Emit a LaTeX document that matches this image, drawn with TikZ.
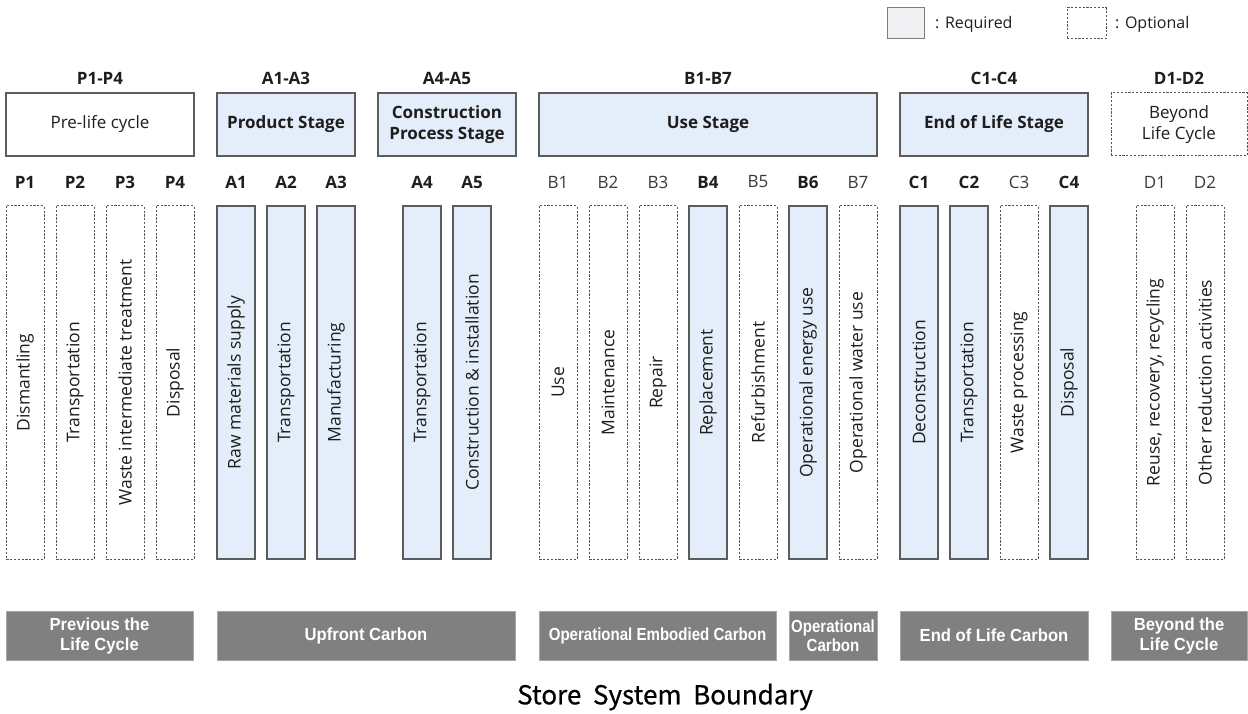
\documentclass[tikz,border=0pt]{standalone}
\usepackage{fontspec}
\setmainfont{Open Sans}
\newfontfamily\condfont{Liberation Sans}[FakeStretch=0.95]
\newfontfamily\narrowfont{Liberation Sans}[FakeStretch=0.86]
\newfontfamily\krfont{Noto Sans CJK KR}[FakeBold=0.6]
\definecolor{reqblue}{HTML}{E4EEFA}
\definecolor{bordergray}{HTML}{5C5C5C}
\definecolor{dashgray}{HTML}{555555}
\definecolor{txt}{HTML}{1E1E1E}
\definecolor{txtl}{HTML}{3A3A3A}
\definecolor{carbongray}{HTML}{808080}
\definecolor{carbonedge}{HTML}{A8A8A8}
\definecolor{legfill}{HTML}{F1F1F3}
\tikzset{
  req/.style={draw=bordergray, fill=reqblue, line width=1.2pt},
  opt/.style={draw=dashgray, dash pattern=on 2.2pt off 1.6pt, line width=1pt, fill=white},
  col/.style={rotate=90, minimum width=353pt, minimum height=38pt, inner sep=0pt,
    font=\fontsize{17.5}{20}\selectfont, text=txt},
  hdr/.style={font=\fontsize{17}{20}\selectfont\bfseries, text=txt},
  sub/.style={font=\fontsize{17}{20}\selectfont\bfseries, text=txt},
  subr/.style={font=\fontsize{17}{20}\selectfont, text=txtl},
  stage/.style={minimum height=63pt, inner sep=0pt, align=center, text=txt,
    font=\fontsize{17}{21}\selectfont\bfseries},
  stager/.style={minimum height=63pt, inner sep=0pt, align=center, text=txt,
    font=\fontsize{17}{21}\selectfont},
  carbon/.style={fill=carbongray, draw=carbonedge, line width=0.8pt, minimum height=49pt,
    inner sep=0pt, align=center, text=white, font=\condfont\bfseries\fontsize{17.5}{20}\selectfont},
  legtext/.style={anchor=west, inner sep=0pt, text=txt, font=\fontsize{16}{18}\selectfont},
}
\begin{document}
\begin{tikzpicture}[x=1pt,y=-1pt]
\useasboundingbox (0,0) rectangle (1248,714);

% legend
\node[draw=bordergray!80, fill=legfill, line width=1pt, minimum width=37pt, minimum height=31pt, inner sep=0pt] (legreq) at (905.5,23.5) {};
\node[legtext] (legreqt) at (935,24) {: Required};
\node[opt, minimum width=39pt, minimum height=31pt, inner sep=0pt] (legopt) at (1086.5,23.5) {};
\node[legtext] (legoptt) at (1115,24) {: Optional};

% headers
\node[hdr] (hP) at (100,78) {P1-P4};
\node[hdr] (hA13) at (286,78) {A1-A3};
\node[hdr] (hA45) at (447,78) {A4-A5};
\node[hdr] (hB) at (708,78) {B1-B7};
\node[hdr] (hC) at (994,78) {C1-C4};
\node[hdr] (hD) at (1179,78) {D1-D2};

% stage boxes
\node[stager, draw=bordergray, line width=1.2pt, fill=white, minimum width=188pt] (sP) at (100,124.5) {Pre-life cycle};
\node[stage, req, minimum width=138pt] (sA13) at (286,124.5) {Product Stage};
\node[stage, req, minimum width=138pt] (sA45) at (447,124.5) {Construction\\Process Stage};
\node[stage, req, minimum width=338pt] (sB) at (708,124.5) {Use Stage};
\node[stage, req, minimum width=188pt] (sC) at (994,124.5) {End of Life Stage};
\node[stager, opt, minimum width=136pt] (sD) at (1179,124.5) {Beyond\\Life Cycle};

% sub labels
\node[sub] (lP1) at (25,182) {P1};
\node[sub] (lP2) at (75,182) {P2};
\node[sub] (lP3) at (125,182) {P3};
\node[sub] (lP4) at (175,182) {P4};
\node[sub] (lA1) at (236,182) {A1};
\node[sub] (lA2) at (286,182) {A2};
\node[sub] (lA3) at (336,182) {A3};
\node[sub] (lA4) at (422,182) {A4};
\node[sub] (lA5) at (472,182) {A5};
\node[subr] (lB1) at (558,182) {B1};
\node[subr] (lB2) at (608,182) {B2};
\node[subr] (lB3) at (658,182) {B3};
\node[sub] (lB4) at (708,182) {B4};
\node[subr] (lB5) at (758,182) {B5};
\node[sub] (lB6) at (808,182) {B6};
\node[subr] (lB7) at (858,182) {B7};
\node[sub] (lC1) at (919,182) {C1};
\node[sub] (lC2) at (969,182) {C2};
\node[subr] (lC3) at (1019,182) {C3};
\node[sub] (lC4) at (1069,182) {C4};
\node[subr] (lD1) at (1155,182) {D1};
\node[subr] (lD2) at (1205,182) {D2};

% columns
\node[col, opt] (cP1) at (25,382.5) {Dismantling};
\node[col, opt] (cP2) at (75,382.5) {Transportation};
\node[col, opt] (cP3) at (125,382.5) {Waste intermediate treatment};
\node[col, opt] (cP4) at (175,382.5) {Disposal};
\node[col, req] (cA1) at (236,382.5) {Raw materials supply};
\node[col, req] (cA2) at (286,382.5) {Transportation};
\node[col, req] (cA3) at (336,382.5) {Manufacturing};
\node[col, req] (cA4) at (422,382.5) {Transportation};
\node[col, req] (cA5) at (472,382.5) {Construction \& installation};
\node[col, opt] (cB1) at (558,382.5) {Use};
\node[col, opt] (cB2) at (608,382.5) {Maintenance};
\node[col, opt] (cB3) at (658,382.5) {Repair};
\node[col, req] (cB4) at (708,382.5) {Replacement};
\node[col, opt] (cB5) at (758,382.5) {Refurbishment};
\node[col, req] (cB6) at (808,382.5) {Operational energy use};
\node[col, opt] (cB7) at (858,382.5) {Operational water use};
\node[col, req] (cC1) at (919,382.5) {Deconstruction};
\node[col, req] (cC2) at (969,382.5) {Transportation};
\node[col, opt] (cC3) at (1019,382.5) {Waste processing};
\node[col, req] (cC4) at (1069,382.5) {Disposal};
\node[col, opt] (cD1) at (1155,382.5) {Reuse, recovery, recycling};
\node[col, opt] (cD2) at (1205,382.5) {Other reduction activities};

% carbon boxes
\node[carbon, minimum width=187pt] (kP) at (99.5,635.5) {Previous the\\Life Cycle};
\node[carbon, minimum width=298pt] (kA) at (366,635.5) {Upfront Carbon};
\node[carbon, minimum width=237pt, font=\narrowfont\bfseries\fontsize{17.5}{20}\selectfont] (kB15) at (657.5,635.5) {Operational Embodied Carbon};
\node[carbon, minimum width=88pt, font=\narrowfont\bfseries\fontsize{17.5}{19}\selectfont] (kB67) at (833,635.5) {Operational\\Carbon};
\node[carbon, minimum width=188pt] (kC) at (994,635.5) {End of Life Carbon};
\node[carbon, minimum width=136pt] (kD) at (1179,635.5) {Beyond the\\Life Cycle};

% title
\node[inner sep=0pt, text=black, font=\krfont\fontsize{26}{30}\selectfont] (title) at (665,697) {Store\hspace{0.45em}System\hspace{0.45em}Boundary};
\end{tikzpicture}
\end{document}
